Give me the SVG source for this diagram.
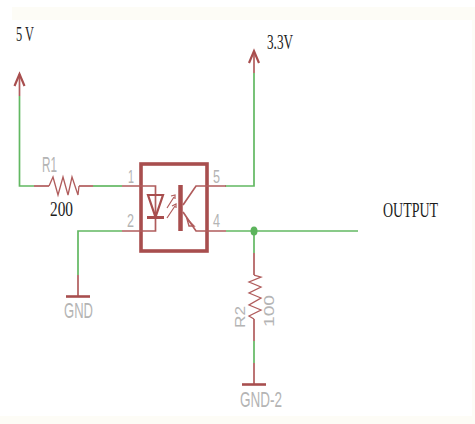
<svg xmlns="http://www.w3.org/2000/svg" width="475" height="424" viewBox="0 0 475 424">
<style>
.g{fill:none;stroke:#62b862;stroke-width:1.700}
.r{fill:none;stroke:#b05c5c;stroke-width:1.700}
.z{stroke-width:1.300}
.d{fill:none;stroke:#a84e4e;stroke-width:2.200}
.b{fill:none;stroke:#a84e4e;stroke-width:3.600}
.l{font-family:"Liberation Sans",sans-serif;fill:#b4b4b4;font-size:22px}
.n{font-size:18px}
.v{font-size:15px}
.t{font-family:"Liberation Serif",serif;fill:#1c1c1c;font-size:20px}
</style>
<rect width="475" height="424" fill="#fff"/>
<rect x="12" y="7" width="463" height="13" fill="#fdfcf6"/>
<rect x="472" y="20" width="3" height="396" fill="#fdfcf6"/>
<rect x="0" y="416" width="475" height="8" fill="#fdfcf6"/>
<g id="connectors">
<path class="g" d="M19.500 96V186H34"/>
<path class="g" d="M93 186H122"/>
<path class="g" d="M225 186H254V73"/>
<path class="g" d="M122 231H78V275"/>
<path class="g" d="M226 231H358"/>
<path class="g" d="M254 231V253"/>
<path class="g" d="M254 341V363"/>
<ellipse cx="254" cy="231" rx="3.500" ry="4.500" fill="#5cb45c"/>
</g>
<g id="vcc5"><path class="r" d="M19.500 74V96"/><path class="d" d="M14.500 86L19.500 74L24.500 86"/><text class="t" x="16" y="41" textLength="18" lengthAdjust="spacingAndGlyphs">5 V</text></g>
<g id="vcc33"><path class="r" d="M254 52V73"/><path class="d" d="M249 63L254 51L259 63"/><text class="t" x="267" y="49" textLength="26" lengthAdjust="spacingAndGlyphs">3.3V</text></g>
<g id="R1"><path class="r" d="M34 186H49"/><path class="r z" d="M49 186L53 177L58 195L63 177L68 195L72 177L78 195L79 186"/><path class="r" d="M79 186H93"/><text class="l" x="42" y="172" textLength="15" lengthAdjust="spacingAndGlyphs">R1</text><text class="t" x="50" y="216" textLength="23" lengthAdjust="spacingAndGlyphs">200</text></g>
<g id="R2"><path class="r" d="M254 253V275"/><path class="r z" d="M254 275L261 277L249 282L261 287L249 293L261 298L249 305L261 310L249 316L254 319"/><path class="r" d="M254 319V341"/><text class="l v" transform="translate(245 328) rotate(-90)" textLength="22" lengthAdjust="spacingAndGlyphs">R2</text><text class="l v" transform="translate(274 327) rotate(-90)" textLength="32" lengthAdjust="spacingAndGlyphs">100</text></g>
<g id="GND"><path class="r" d="M78 275V296"/><path class="b" d="M66 296.500H90" style="stroke-width:2.600"/><text class="l" x="64" y="318" textLength="29" lengthAdjust="spacingAndGlyphs">GND</text></g>
<g id="GND-2"><path class="r" d="M254 363V384"/><path class="b" d="M242 384.500H266" style="stroke-width:2.600"/><text class="l" x="240" y="407" textLength="42" lengthAdjust="spacingAndGlyphs">GND-2</text></g>
<g id="U1">
<rect class="b" x="141" y="164" width="66" height="87"/>
<path class="r" d="M122 186H155.500V231H122"/>
<path class="r" d="M226 186H196L183 205"/>
<path class="r" d="M226 231H196L183 212"/>
<path class="d" d="M148 195H163L155.500 217Z"/>
<path class="d" d="M147 217.500H164" style="stroke-width:3"/>
<path class="b" d="M180.500 185V231" style="stroke-width:4.500"/>
<path class="r" d="M167 208L174 197M171 196L175 195L175 199M167 218L175 206M172 206L176 204L176 208" style="stroke-width:1.200"/>
<path class="r" d="M187 219L194 226L189 226Z" style="stroke-width:1.400"/>
<text class="l n" x="128" y="183" textLength="6" lengthAdjust="spacingAndGlyphs">1</text><text class="l n" x="127" y="227" textLength="7" lengthAdjust="spacingAndGlyphs">2</text><text class="l n" x="213" y="183" textLength="7" lengthAdjust="spacingAndGlyphs">5</text><text class="l n" x="213" y="227" textLength="7" lengthAdjust="spacingAndGlyphs">4</text>
</g>
<g id="output"><text class="t" x="383" y="217" textLength="55" lengthAdjust="spacingAndGlyphs">OUTPUT</text></g>
</svg>
